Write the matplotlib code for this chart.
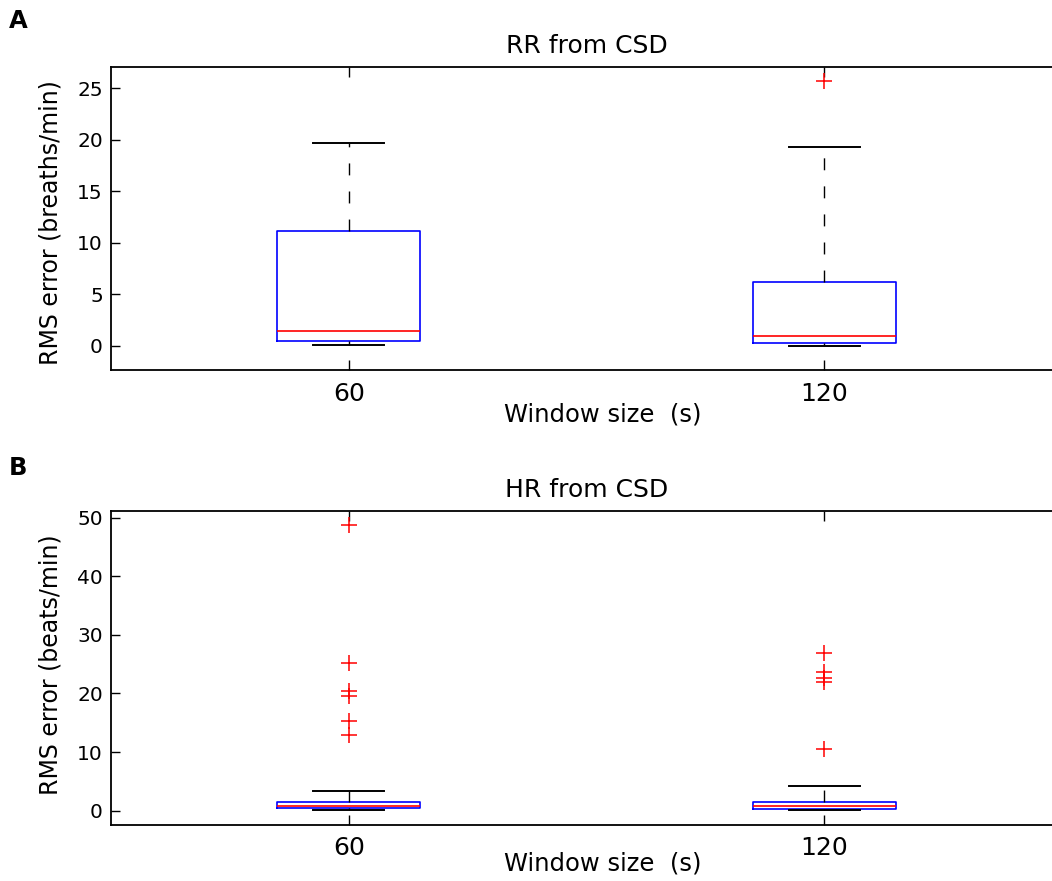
import matplotlib
matplotlib.use("Agg")
import matplotlib.pyplot as plt

# Window sizes (s)
windows = ["60", "120"]

# Panel A: RR from CSD (breaths/min)
rr_whislo = [0.07, 0.03]
rr_q1 = [0.51, 0.26]
rr_med = [1.48, 0.97]
rr_q3 = [11.18, 6.21]
rr_whishi = [19.72, 19.31]
rr_fliers = [[], [25.7]]

# Panel B: HR from CSD (beats/min)
hr_whislo = [0.12, 0.10]
hr_q1 = [0.46, 0.35]
hr_med = [0.80, 0.80]
hr_q3 = [1.48, 1.48]
hr_whishi = [3.41, 4.20]
hr_fliers = [[48.7, 25.15, 20.5, 19.57, 15.36, 12.86],
             [26.96, 23.6, 22.6, 21.9, 10.58]]


def make_stats(lo, q1, med, q3, hi, fliers):
    stats = []
    for i in range(len(windows)):
        stats.append(dict(label=windows[i], whislo=lo[i], q1=q1[i], med=med[i],
                          q3=q3[i], whishi=hi[i], fliers=fliers[i]))
    return stats


def draw_panel(ax, stats, ylim, yticks, title, ylabel, ylab_y, xlab_y):
    ax.bxp(stats, positions=[1, 2], widths=0.3, capwidths=0.15,
           boxprops=dict(color="blue", lw=1.2),
           medianprops=dict(color="red", lw=1.2),
           whiskerprops=dict(color="black", lw=1.0, linestyle=(0, (8.6, 11.6))),
           capprops=dict(color="black", lw=1.4),
           flierprops=dict(marker="+", markeredgecolor="red", markersize=11,
                           markeredgewidth=1.1, linestyle="none"))
    ax.set_xlim(0.5, 2.5)
    ax.set_ylim(*ylim)
    ax.set_yticks(yticks)
    ax.tick_params(axis="x", top=True, bottom=True, direction="in", length=7,
                   width=1.0, labelsize=18, pad=8.4)
    ax.tick_params(axis="y", left=True, right=False, direction="in", length=6.5,
                   width=1.0, labelsize=14.5, pad=5.8)
    for s in ["left", "bottom", "top"]:
        ax.spines[s].set_linewidth(1.3)
    ax.spines["right"].set_visible(False)
    ax.set_title(title, fontsize=18, pad=9.7)
    ax.set_xlabel("Window size  (s)", fontsize=17.5)
    ax.xaxis.set_label_coords(0.517, xlab_y)
    ax.set_ylabel(ylabel, fontsize=17)
    ax.yaxis.set_label_coords(-0.0509, ylab_y)


fig = plt.figure(figsize=(10.52, 8.81), dpi=100)
ax1 = fig.add_axes([0.1055, 0.5795, 0.904, 0.3445])
ax2 = fig.add_axes([0.1055, 0.0639, 0.904, 0.3564])

draw_panel(ax1, make_stats(rr_whislo, rr_q1, rr_med, rr_q3, rr_whishi, rr_fliers),
           (-2.38, 27.07), [0, 5, 10, 15, 20, 25], "RR from CSD",
           "RMS error (breaths/min)", 0.486, -0.104)
draw_panel(ax2, make_stats(hr_whislo, hr_q1, hr_med, hr_q3, hr_whishi, hr_fliers),
           (-2.39, 51.19), [0, 10, 20, 30, 40, 50], "HR from CSD",
           "RMS error (beats/min)", 0.509, -0.086)

fig.text(9 / 1052, 1 - 28 / 881, "A", fontsize=17.5, fontweight="bold", va="baseline")
fig.text(9 / 1052, 1 - 475 / 881, "B", fontsize=17.5, fontweight="bold", va="baseline")

fig.savefig("out.png", dpi=100)
